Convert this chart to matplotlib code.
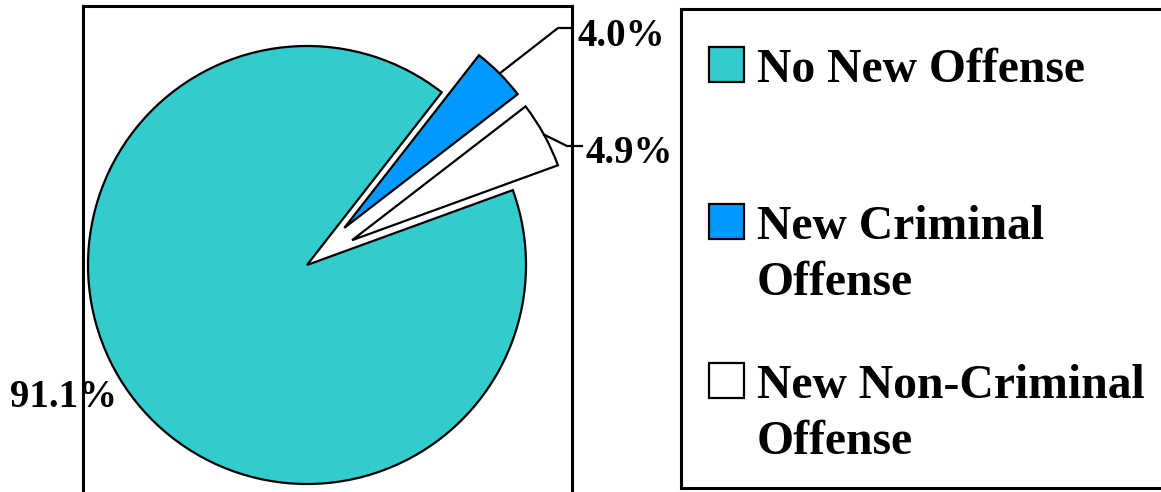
import math
import matplotlib
matplotlib.use('Agg')
import matplotlib.pyplot as plt
from matplotlib.patches import Rectangle

categories = ['No New Offense', 'New Criminal\nOffense', 'New Non-Criminal\nOffense']
shares = [91.1, 4.0, 4.9]
pct_labels = ['91.1%', '4.0%', '4.9%']
colors = ['#33CCCC', '#0099FF', '#FFFFFF']
explode_frac = [0.0, 0.24, 0.235]

W, H = 1161, 492
plt.rcParams['font.family'] = ['Liberation Serif', 'DejaVu Serif']
plt.rcParams['font.weight'] = 'bold'

fig = plt.figure(figsize=(W / 100, H / 100), dpi=100)

# pie panel, data units = pixels (y up)
px0, px1, py0, py1 = 83, 572, -12, 486
ax = fig.add_axes([px0 / W, py0 / H, (px1 - px0) / W, (py1 - py0) / H])
radius = 219
center = (307, H - 265)
wedges, _ = ax.pie(shares, colors=colors, explode=[e * radius for e in explode_frac],
                   startangle=20, counterclock=False, center=center, radius=radius,
                   frame=True, wedgeprops=dict(edgecolor='black', linewidth=1.6))
ax.set_xlim(px0, px1)
ax.set_ylim(py0, py1)
ax.set_aspect('auto')
ax.set_xticks([])
ax.set_yticks([])
for s in ax.spines.values():
    s.set_linewidth(2.2)


def arc_mid(w):
    a = math.radians((w.theta1 + w.theta2) / 2)
    return w.center[0] + w.r * math.cos(a), w.center[1] + w.r * math.sin(a)


# leader lines + labels for the small slices
elbows = {1: ((558, H - 28), (571, H - 28)), 2: ((567, H - 146), (582, H - 146))}
text_pos = {0: (10, H - 407), 1: (577, H - 46), 2: (585, H - 163)}
for i, w in enumerate(wedges):
    if i in elbows:
        sx, sy = arc_mid(w)
        (ex, ey), (tx, ty) = elbows[i]
        ax.plot([sx, ex, tx], [sy, ey, ty], color='black', lw=1.6, clip_on=False)
    x, y = text_pos[i]
    ax.text(x, y, pct_labels[i], fontsize=28, fontweight='bold', ha='left', va='baseline')

# legend panel
lx0, lx1, ly0, ly1 = 681.5, 1175, H - 488, H - 9
lax = fig.add_axes([lx0 / W, ly0 / H, (lx1 - lx0) / W, (ly1 - ly0) / H])
lax.set_xlim(lx0, lx1)
lax.set_ylim(ly0, ly1)
lax.set_xticks([])
lax.set_yticks([])
for s in lax.spines.values():
    s.set_linewidth(2.2)

baselines = [82, 239, 398]
line_gap = 56
for lab, col, b in zip(categories, colors, baselines):
    lax.add_patch(Rectangle((709, H - b), 35, 35, facecolor=col, edgecolor='black', lw=1.6))
    for k, line in enumerate(lab.split('\n')):
        lax.text(757, H - b - k * line_gap, line, fontsize=34.3, fontweight='bold',
                 ha='left', va='baseline')

fig.savefig('out.png', dpi=100)
